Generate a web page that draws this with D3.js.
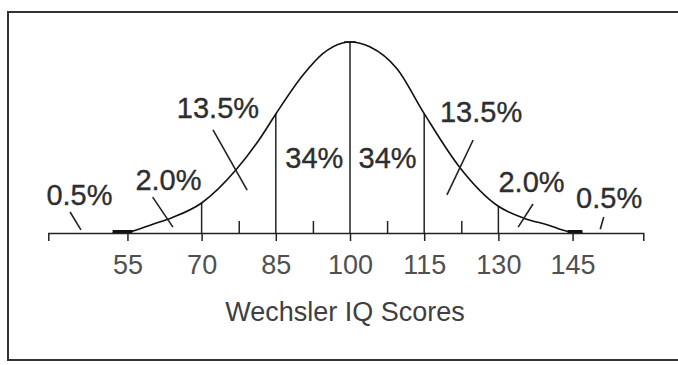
<!DOCTYPE html>
<html>
<head>
<meta charset="utf-8">
<script src="https://cdn.jsdelivr.net/npm/d3@7"></script>
<style>
  html, body { margin: 0; background: #fff; overflow: hidden; }
  svg { display: block; font-family: 'Liberation Sans', Arial, sans-serif; }
  .pct { font-size: 29px; fill: #2e2e2e; stroke: #2e2e2e; stroke-width: 0.35; }
  .axis .tick text { font-size: 27px; fill: #505050; font-family: 'Liberation Sans', Arial, sans-serif; }
  .axis path, .axis line { stroke: #222; stroke-width: 1.5; }
  .title { font-size: 27px; fill: #404040; }
</style>
</head>
<body>
<svg></svg>
<script>
// curve: IQ score vs relative height (peak = 1)
const curveIQ = [52, 56, 60, 64, 70, 77, 81.8, 85, 90.5, 94.5, 98.5, 100, 104, 109.5, 115, 122, 130, 135, 140, 144, 147];
const curveH  = [0, 0.01, 0.045, 0.08, 0.157, 0.332, 0.495, 0.623, 0.827, 0.939, 0.995, 1, 0.975, 0.86, 0.625, 0.35, 0.14, 0.079, 0.042, 0.008, 0];

const majorTicks = [55, 70, 85, 100, 115, 130, 145];
const minorTicks = [77.5, 92.5, 107.5, 122.5];
const dividers = [70, 85, 100, 115, 130];
const tails = [[52, 56], [144, 147]];
const axisEnds = [39, 159.3];

const pctLabels = ['0.5%', '2.0%', '13.5%', '34%', '34%', '13.5%', '2.0%', '0.5%'];
const labelIQ   = [45.3, 63.3, 73.3, 92.8, 107.6, 126.5, 136.7, 152.4];
const labelH    = [0.147, 0.225, 0.602, 0.34, 0.34, 0.58, 0.215, 0.131];

// pointer strokes: [iq1, h1, iq2, h2]
const pointers = [
  [43.4, 0.11, 45.6, 0.016],
  [60.1, 0.188, 64.2, 0.031],
  [72.3, 0.54, 79.2, 0.225],
  [124.9, 0.487, 119.6, 0.2],
  [137.0, 0.152, 134.0, 0.031],
  [151.3, 0.084, 150.6, 0.02]
];

const xTitle = 'Wechsler IQ Scores';

const width = 678, height = 365;
const axisY = 233;

const svg = d3.select('svg')
  .attr('width', width)
  .attr('height', height);

// frame: open on the right, as in the source image
svg.append('path')
  .attr('d', `M${width + 5},12 H8 V360 H${width + 5}`)
  .attr('fill', 'none')
  .attr('stroke', '#333')
  .attr('stroke-width', 2);

const xScale = d3.scaleLinear()
  .domain(axisEnds)
  .range([48.3, 643.3]);

const yScale = d3.scaleLinear()
  .domain([0, 1])
  .range([axisY, 42]);

const data = curveIQ.map((iq, i) => ({iq, h: curveH[i]}));

const line = d3.line()
  .x(d => xScale(d.iq))
  .y(d => yScale(d.h))
  .curve(d3.curveMonotoneX);

// divider lines under the curve
const hAt = iq => curveH[curveIQ.indexOf(iq)];
svg.selectAll('.divider')
  .data(dividers)
  .join('line')
  .attr('class', 'divider')
  .attr('x1', d => xScale(d)).attr('x2', d => xScale(d))
  .attr('y1', d => yScale(hAt(d)))
  .attr('y2', axisY)
  .attr('stroke', '#222')
  .attr('stroke-width', 1.5);

// little cap on the peak
svg.append('line')
  .attr('x1', xScale(100) - 6).attr('x2', xScale(100) + 6)
  .attr('y1', yScale(1)).attr('y2', yScale(1))
  .attr('stroke', '#222')
  .attr('stroke-width', 1.5);

svg.append('path')
  .attr('d', line(data))
  .attr('fill', 'none')
  .attr('stroke', '#111')
  .attr('stroke-width', 1.6);

// heavier tails where the curve meets the axis
tails.forEach(([a, b]) => {
  svg.append('line')
    .attr('x1', xScale(a)).attr('x2', xScale(b))
    .attr('y1', axisY - 1.5).attr('y2', axisY - 1.5)
    .attr('stroke', '#111')
    .attr('stroke-width', 3);
});

// axis
svg.append('g')
  .attr('class', 'axis')
  .attr('transform', `translate(0, ${axisY})`)
  .call(d3.axisBottom(xScale)
    .tickValues(majorTicks)
    .tickSize(8)
    .tickSizeOuter(8)
    .tickPadding(14));

svg.append('g')
  .attr('class', 'axis minor')
  .attr('transform', `translate(0, ${axisY})`)
  .call(d3.axisBottom(xScale)
    .tickValues(minorTicks)
    .tickSize(-12)
    .tickFormat(''))
  .select('.domain').remove();

// pointers
svg.selectAll('.pointer')
  .data(pointers)
  .join('line')
  .attr('class', 'pointer')
  .attr('x1', d => xScale(d[0])).attr('y1', d => yScale(d[1]))
  .attr('x2', d => xScale(d[2])).attr('y2', d => yScale(d[3]))
  .attr('stroke', '#222')
  .attr('stroke-width', 1.6);

svg.selectAll('.pct')
  .data(pctLabels)
  .join('text')
  .attr('class', 'pct')
  .attr('x', (d, i) => xScale(labelIQ[i]))
  .attr('y', (d, i) => yScale(labelH[i]))
  .attr('text-anchor', 'middle')
  .text(d => d);

svg.append('text')
  .attr('class', 'title')
  .attr('x', 345)
  .attr('y', 321)
  .attr('text-anchor', 'middle')
  .text(xTitle);
</script>
</body>
</html>
